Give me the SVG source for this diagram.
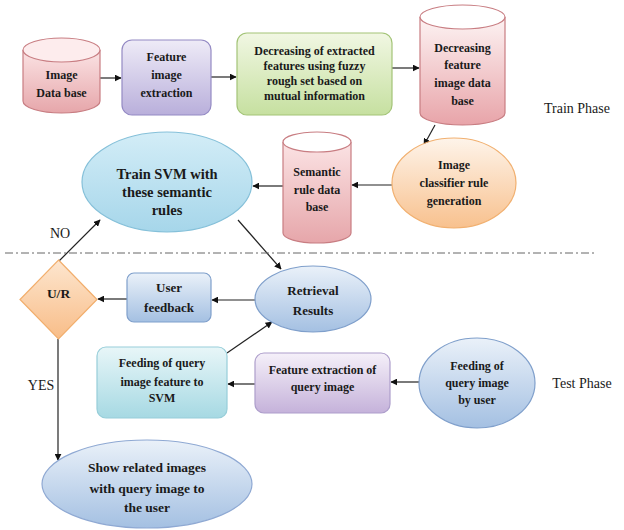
<svg xmlns="http://www.w3.org/2000/svg" width="624" height="530" viewBox="0 0 624 530" font-family="'Liberation Serif', 'Times New Roman', 'DejaVu Serif', serif">
<style>
text{font-family:'Liberation Serif','Times New Roman','DejaVu Serif',serif}
.t{font-weight:bold;font-size:12px;fill:#1a1a1a;text-anchor:middle}
.l{font-size:14px;fill:#1a1a1a;text-anchor:middle}
.c{stroke:#222;stroke-width:1.2;fill:none;marker-end:url(#ah)}
</style>
<defs>
<marker id="ah" viewBox="0 0 10 10" refX="9" refY="5" markerWidth="7" markerHeight="7" orient="auto" markerUnits="userSpaceOnUse"><path d="M0,0L10,5L0,10z" fill="#111"/></marker>
<linearGradient id="gPink" x1="0" y1="0" x2="0" y2="1"><stop offset="0" stop-color="#fbe3e4"/><stop offset="1" stop-color="#e6a6aa"/></linearGradient>
<linearGradient id="gPink2" x1="0" y1="0" x2="0" y2="1"><stop offset="0" stop-color="#fdf3f3"/><stop offset="1" stop-color="#e8a4a9"/></linearGradient>
<linearGradient id="gPurple" x1="0" y1="0" x2="0" y2="1"><stop offset="0" stop-color="#eeebf7"/><stop offset="1" stop-color="#b9afdb"/></linearGradient>
<linearGradient id="gGreen" x1="0" y1="0" x2="0" y2="1"><stop offset="0" stop-color="#f1f7e3"/><stop offset="1" stop-color="#c6e0a0"/></linearGradient>
<linearGradient id="gOrange" x1="0" y1="0" x2="0" y2="1"><stop offset="0" stop-color="#fef4ea"/><stop offset="1" stop-color="#f8c18e"/></linearGradient>
<linearGradient id="gSky" x1="0" y1="0" x2="0" y2="1"><stop offset="0" stop-color="#d3edf7"/><stop offset="1" stop-color="#a6d6ea"/></linearGradient>
<linearGradient id="gBlue" x1="0" y1="0" x2="0" y2="1"><stop offset="0" stop-color="#eaf1f9"/><stop offset="1" stop-color="#a4c0e2"/></linearGradient>
<linearGradient id="gCyan" x1="0" y1="0" x2="0" y2="1"><stop offset="0" stop-color="#e8f6f8"/><stop offset="1" stop-color="#a6d9e3"/></linearGradient>
<linearGradient id="gLilac" x1="0" y1="0" x2="0" y2="1"><stop offset="0" stop-color="#f5f0f9"/><stop offset="1" stop-color="#c5b2da"/></linearGradient>
<linearGradient id="gDiamond" x1="0" y1="0" x2="0" y2="1"><stop offset="0" stop-color="#fde6cf"/><stop offset="1" stop-color="#f8bd88"/></linearGradient>
</defs>

<g id="connectors">
<line class="c" x1="100" y1="78" x2="121" y2="78"/>
<line class="c" x1="211" y1="77" x2="236" y2="77"/>
<line class="c" x1="392" y1="68" x2="419" y2="68"/>
<line class="c" x1="435" y1="125" x2="424" y2="145"/>
<line class="c" x1="392" y1="185" x2="352" y2="185"/>
<line class="c" x1="283" y1="186" x2="253" y2="186"/>
<line class="c" x1="58" y1="262" x2="100" y2="220"/>
<line class="c" x1="238" y1="220" x2="281" y2="269"/>
<line class="c" x1="256" y1="300" x2="212" y2="300"/>
<line class="c" x1="127" y1="299" x2="98" y2="299"/>
<line class="c" x1="227" y1="353" x2="272" y2="322"/>
<line class="c" x1="255" y1="384" x2="228" y2="384"/>
<line class="c" x1="420" y1="382" x2="391" y2="382"/>
<line class="c" x1="58" y1="339" x2="58" y2="460"/>
<line x1="5" y1="253" x2="596" y2="253" stroke="#666" stroke-width="1" stroke-dasharray="8 3 2 3"/>
<text class="l" x="60" y="238">NO</text>
<text class="l" x="41" y="390">YES</text>
</g>

<g id="image-db">
<path d="M23,50 L23,101 A38.5,12 0 0 0 100,101 L100,50" fill="url(#gPink)" stroke="#c87d82" stroke-width="1.2"/>
<ellipse cx="61.5" cy="50" rx="38.5" ry="12" fill="#fdeced" stroke="#c87d82" stroke-width="1.2"/>
<text class="t" x="61.5" y="79">Image</text>
<text class="t" x="61.5" y="97">Data base</text>
</g>

<g id="feature-extraction">
<rect x="122" y="40" width="89" height="75" rx="10" fill="url(#gPurple)" stroke="#948ac4" stroke-width="1.2"/>
<text class="t" x="166.5" y="61">Feature</text>
<text class="t" x="166.5" y="79">image</text>
<text class="t" x="166.5" y="97">extraction</text>
</g>

<g id="decreasing-features">
<rect x="237" y="33" width="155" height="82" rx="10" fill="url(#gGreen)" stroke="#a3c477" stroke-width="1.2"/>
<text class="t" x="314.5" y="55">Decreasing of extracted</text>
<text class="t" x="314.5" y="70">features using fuzzy</text>
<text class="t" x="314.5" y="85">rough set based on</text>
<text class="t" x="314.5" y="100">mutual information</text>
</g>

<g id="decreasing-db">
<path d="M420,17 L420,113 A42.5,12 0 0 0 505,113 L505,17" fill="url(#gPink2)" stroke="#c87d82" stroke-width="1.2"/>
<ellipse cx="462.5" cy="17" rx="42.5" ry="12" fill="#ffffff" stroke="#c87d82" stroke-width="1.2"/>
<text class="t" x="462.5" y="52">Decreasing</text>
<text class="t" x="462.5" y="69">feature</text>
<text class="t" x="462.5" y="87">image data</text>
<text class="t" x="462.5" y="105">base</text>
</g>

<g id="train-phase"><text class="l" x="577" y="113">Train Phase</text></g>

<g id="classifier-rule">
<ellipse cx="454" cy="183" rx="62" ry="45" fill="url(#gOrange)" stroke="#f1b070" stroke-width="1.2"/>
<text class="t" x="454" y="169">Image</text>
<text class="t" x="454" y="187">classifier rule</text>
<text class="t" x="454" y="205">generation</text>
</g>

<g id="semantic-db">
<path d="M283,142 L283,233 A34,10 0 0 0 351,233 L351,142" fill="url(#gPink)" stroke="#c87d82" stroke-width="1.2"/>
<ellipse cx="317" cy="142" rx="34" ry="10" fill="#ffffff" stroke="#c87d82" stroke-width="1.2"/>
<text class="t" x="317" y="176">Semantic</text>
<text class="t" x="317" y="194">rule data</text>
<text class="t" x="317" y="211">base</text>
</g>

<g id="train-svm">
<ellipse cx="167" cy="182" rx="85" ry="50" fill="url(#gSky)" stroke="#85c0d9" stroke-width="1.2"/>
<text class="t" x="167" y="179" style="font-size:14.5px">Train SVM with</text>
<text class="t" x="167" y="197" style="font-size:14.5px">these semantic</text>
<text class="t" x="167" y="215" style="font-size:14.5px">rules</text>
</g>

<g id="ur-decision">
<path d="M58.5,260 L97,299.5 L58.5,339 L20,299.5 Z" fill="url(#gDiamond)" stroke="#f2ae6c" stroke-width="1.2"/>
<text class="t" x="58.5" y="298" style="font-size:13.5px">U/R</text>
</g>

<g id="user-feedback">
<rect x="127" y="273" width="84" height="49" rx="7" fill="url(#gBlue)" stroke="#7f9fcb" stroke-width="1.2"/>
<text class="t" x="169" y="292" style="font-size:13px">User</text>
<text class="t" x="169" y="312" style="font-size:13px">feedback</text>
</g>

<g id="retrieval-results">
<ellipse cx="313" cy="299" rx="58" ry="33" fill="url(#gBlue)" stroke="#7f9fcb" stroke-width="1.2"/>
<text class="t" x="313" y="295" style="font-size:13px">Retrieval</text>
<text class="t" x="313" y="315" style="font-size:13px">Results</text>
</g>

<g id="feeding-svm">
<rect x="97" y="347" width="130" height="71" rx="9" fill="url(#gCyan)" stroke="#97ced9" stroke-width="1.2"/>
<text class="t" x="162" y="367">Feeding of query</text>
<text class="t" x="162" y="386">image feature to</text>
<text class="t" x="162" y="402">SVM</text>
</g>

<g id="feature-extraction-query">
<rect x="255" y="353" width="135" height="60" rx="9" fill="url(#gLilac)" stroke="#ad9ecb" stroke-width="1.2"/>
<text class="t" x="322.5" y="374">Feature extraction of</text>
<text class="t" x="322.5" y="391">query image</text>
</g>

<g id="feeding-user">
<ellipse cx="477" cy="383" rx="58" ry="45" fill="url(#gBlue)" stroke="#7f9fcb" stroke-width="1.2"/>
<text class="t" x="477" y="370">Feeding of</text>
<text class="t" x="477" y="387">query image</text>
<text class="t" x="477" y="404">by user</text>
</g>

<g id="test-phase"><text class="l" x="582" y="388">Test Phase</text></g>

<g id="show-related">
<ellipse cx="147" cy="484" rx="105" ry="44" fill="url(#gBlue)" stroke="#8fa9d3" stroke-width="1.2"/>
<text class="t" x="147" y="472" style="font-size:13.5px">Show related images</text>
<text class="t" x="147" y="493" style="font-size:13.5px">with query image to</text>
<text class="t" x="147" y="512" style="font-size:13.5px">the user</text>
</g>
</svg>
